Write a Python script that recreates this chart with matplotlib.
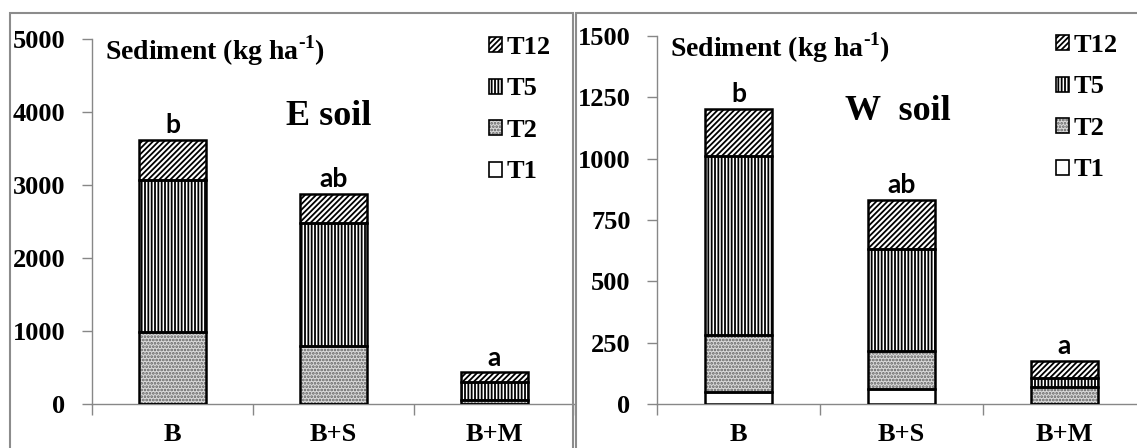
import matplotlib
matplotlib.use("Agg")
import matplotlib.pyplot as plt
from matplotlib.patches import Patch, Rectangle
from matplotlib.legend_handler import HandlerTuple

# ---- data -----------------------------------------------------------
categories = ["B", "B+S", "B+M"]
series = ["T1", "T2", "T5", "T12"]

e_t1 = [0, 0, 0]
e_t2 = [986, 795, 60]
e_t5 = [2082, 1684, 240]
e_t12 = [548, 398, 132]
e_letters = ["b", "ab", "a"]
e_ticks = [0, 1000, 2000, 3000, 4000, 5000]

w_t1 = [50, 61, 0]
w_t2 = [233, 154, 70]
w_t5 = [729, 418, 37]
w_t12 = [190, 200, 69]
w_letters = ["b", "ab", "a"]
w_ticks = [0, 250, 500, 750, 1000, 1250, 1500]

# ---- style ----------------------------------------------------------
plt.rcParams["font.family"] = ["Liberation Serif", "DejaVu Serif"]
plt.rcParams["font.weight"] = "bold"
plt.rcParams["hatch.linewidth"] = 1.3
plt.rcParams["mathtext.fontset"] = "custom"
plt.rcParams["mathtext.rm"] = "Liberation Serif:bold"
plt.rcParams["mathtext.bf"] = "Liberation Serif:bold"

# face colour, hatch pattern, hatch colour for each layer
fills = {
    "T1": ("white", None, "black"),
    "T2": ("#dadada", ".....", "#5e5e5e"),
    "T5": ("white", "|||||", "black"),
    "T12": ("white", "//////", "black"),
}
AXIS_GRAY = "#878787"
BORDER_GRAY = "#8c8c8c"

W, H = 1137, 448
fig = plt.figure(figsize=(W / 100, H / 100), dpi=100)


def layer_handle(name):
    face, hatch, hcol = fills[name]
    return (Patch(facecolor=face, hatch=hatch, edgecolor=hcol, linewidth=0),
            Patch(facecolor="none", edgecolor="black", linewidth=1.2))


def panel(rect, stacks, letters, ticks, title, title_xy, legend_anchor):
    ax = fig.add_axes(rect)
    x = [i + 0.5 for i in range(len(categories))]
    bottom = [0] * len(categories)
    for name, vals in zip(series, stacks):
        face, hatch, hcol = fills[name]
        ax.bar(x, vals, width=0.41, bottom=bottom, facecolor=face,
               hatch=hatch, edgecolor=hcol, linewidth=0, zorder=3)
        ax.bar(x, vals, width=0.41, bottom=bottom, facecolor="none",
               edgecolor="black", linewidth=1.8, zorder=4)
        bottom = [b + v for b, v in zip(bottom, vals)]
    for xi, top, lab in zip(x, bottom, letters):
        ax.annotate(lab, (xi, top), xytext=(0, 5), textcoords="offset points",
                    ha="center", va="baseline", fontsize=19,
                    family="Lato", fontweight="bold")

    ax.set_xlim(0, len(categories))
    ax.set_ylim(ticks[0], ticks[-1])
    ax.set_yticks(ticks)
    ax.set_yticklabels([str(t) for t in ticks])
    ax.set_xticks(range(len(categories) + 1))
    ax.set_xticklabels([])
    ax.set_xticks(x, minor=True)
    ax.set_xticklabels(categories, minor=True)

    for s in ("top", "right"):
        ax.spines[s].set_visible(False)
    for s in ("left", "bottom"):
        ax.spines[s].set_color(AXIS_GRAY)
        ax.spines[s].set_linewidth(1.0)
    ax.tick_params(axis="y", direction="out", length=7, width=1.0,
                   color=AXIS_GRAY, labelsize=19, pad=12)
    ax.tick_params(axis="x", which="major", direction="out", length=8,
                   width=1.0, color=AXIS_GRAY)
    ax.tick_params(axis="x", which="minor", length=0, labelsize=19, pad=14)

    ax.text(0.027, 0.945, "Sediment (kg ha$^{\u2010\\mathbf{1}}$)",
            transform=ax.transAxes, fontsize=20, ha="left",
            va="baseline")
    ax.text(title_xy[0], title_xy[1], title, fontsize=26, ha="center",
            va="center")

    names = series[::-1]
    fig.legend([layer_handle(n) for n in names], names, loc="upper left",
               bbox_to_anchor=legend_anchor, bbox_transform=fig.transFigure,
               handler_map={tuple: HandlerTuple(ndivide=1, pad=0)},
               frameon=False, fontsize=19, borderpad=0, borderaxespad=0,
               handlelength=0.5, handleheight=0.5, handletextpad=0.15,
               labelspacing=0.7)
    return ax


panel([92 / W, 44 / H, 483 / W, 364.7 / H],
      [e_t1, e_t2, e_t5, e_t12], e_letters, e_ticks,
      "E soil", (1.47, 3945), (489 / W, 1 - 36 / H))
panel([657 / W, 44 / H, 489 / W, 368 / H],
      [w_t1, w_t2, w_t5, w_t12], w_letters, w_ticks,
      "W  soil", (1.48, 1191), (1056 / W, 1 - 34 / H))

# panel frames
top = 1 - 12.7 / H
fig.add_artist(Rectangle((10 / W, -0.1), (573.5 - 10) / W, top + 0.1,
                         transform=fig.transFigure, fill=False,
                         edgecolor=BORDER_GRAY, linewidth=1.5))
fig.add_artist(Rectangle((576 / W, -0.1), 1.0, top + 0.1,
                         transform=fig.transFigure, fill=False,
                         edgecolor=BORDER_GRAY, linewidth=1.5))

fig.savefig("out.png", dpi=100)
